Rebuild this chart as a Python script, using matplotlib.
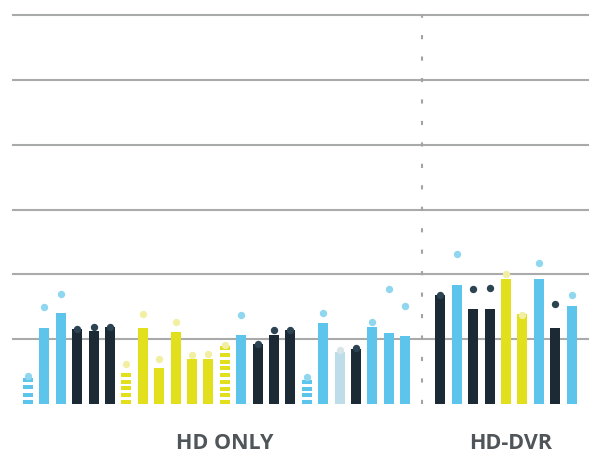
import numpy as np
import matplotlib.pyplot as plt

# bar values and the matching dot values, left to right
bar_values = [0.40, 1.17, 1.40, 1.16, 1.13, 1.19, 0.48, 1.17, 0.56, 1.11, 0.69, 0.69,
              0.89, 1.06, 0.93, 1.06, 1.14, 0.37, 1.25, 0.80, 0.85, 1.19, 1.10, 1.05,
              1.68, 1.84, 1.47, 1.47, 1.93, 1.39, 1.93, 1.17, 1.51]
dot_values = [0.43, 1.49, 1.70, 1.16, 1.19, 1.18, 0.61, 1.39, 0.69, 1.26, 0.75, 0.77,
              0.91, 1.37, 0.93, 1.14, 1.14, 0.41, 1.40, 0.84, 0.87, 1.26, 1.78, 1.51,
              1.68, 2.32, 1.78, 1.79, 2.00, 1.38, 2.17, 1.55, 1.68]
series = ['blue', 'blue', 'blue', 'navy', 'navy', 'navy', 'yellow', 'yellow', 'yellow',
          'yellow', 'yellow', 'yellow', 'yellow', 'blue', 'navy', 'navy', 'navy', 'blue',
          'blue', 'pale', 'navy', 'blue', 'blue', 'blue',
          'navy', 'blue', 'navy', 'navy', 'yellow', 'yellow', 'blue', 'navy', 'blue']
partial = [1, 0, 0, 0, 0, 0, 1, 0, 0, 0, 0, 0, 1, 0, 0, 0, 0, 1, 0, 0, 0, 0, 0, 0,
           0, 0, 0, 0, 0, 0, 0, 0, 0]
groups = ['HD ONLY', 'HD-DVR']
group_sizes = [24, 9]

bar_colors = {'blue': '#5dc5ec', 'navy': '#1b2a35', 'yellow': '#e2e01c', 'pale': '#bddee8'}
dot_colors = {'blue': '#8fd6ef', 'navy': '#2c4351', 'yellow': '#f2efa3', 'pale': '#d8e5e8'}

# x positions: one slot per bar, wider gap between the two groups
x = np.concatenate([np.arange(group_sizes[0]),
                    group_sizes[0] + 1.15 + np.arange(group_sizes[1])])
divider = group_sizes[0] + 0.04
width = 0.61

fig = plt.figure(figsize=(5.94, 4.55), dpi=100)
ax = fig.add_axes([13 / 594, 51 / 455, 575 / 594, 389 / 455])
ax.set_xlim(-0.915, 34.15)
ax.set_ylim(0, 6)
ax.axis('off')

for g in range(1, 7):
    ax.axhline(g, color='#a9abab', lw=1.5, zorder=1, clip_on=False)

ax.plot([divider, divider], [0, 6], color='#a3a3a3', lw=1.5,
        ls=(0, (2.0, 8.3)), zorder=1, clip_on=False)

stripe_step = 0.104
stripe_h = 0.062
for xi, v, s, p in zip(x, bar_values, series, partial):
    c = bar_colors[s]
    if p:
        n = int(round((v - stripe_h) / stripe_step)) + 1
        step = (v - stripe_h) / (n - 1)
        bottoms = np.arange(n) * step
        ax.bar([xi] * n, [stripe_h] * n, width=width, bottom=bottoms,
               color=c, lw=0, zorder=2)
    else:
        ax.bar(xi, v, width=width, color=c, lw=0, zorder=2)

for xi, d, s in zip(x, dot_values, series):
    ax.plot(xi, d, 'o', ms=5.3, color=dot_colors[s], mec='none', zorder=3,
            clip_on=False)

# group labels under the bars
label_x = [12.0, 29.45]
for name, lx in zip(groups, label_x):
    fx = ax.transData.transform((lx, 0))[0] / fig.dpi / 5.94
    fig.text(fx, 0.002, name, ha='center', va='bottom', fontsize=15.5,
             fontweight='bold', family='Open Sans', color='#4f5558')

fig.savefig('out.png', dpi=100)
